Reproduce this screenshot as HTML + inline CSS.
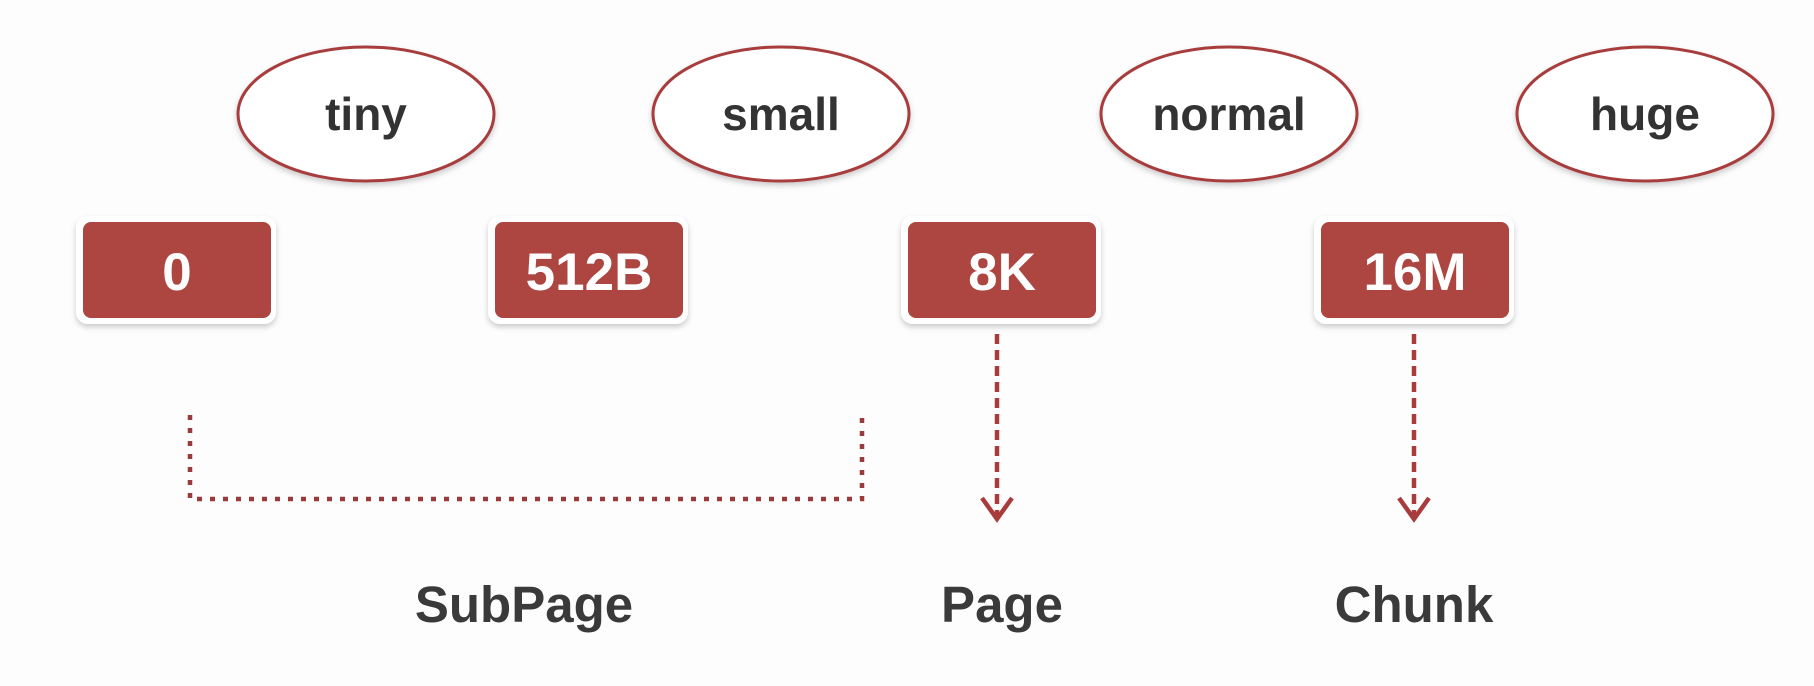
<!DOCTYPE html>
<html><head><meta charset="utf-8"><style>
html,body{margin:0;padding:0;background:#fdfdfe;}
svg{display:block;}
</style></head><body>
<svg width="1814" height="686" viewBox="0 0 1814 686" xmlns="http://www.w3.org/2000/svg">
<defs>
<filter id="sh" x="-20%" y="-20%" width="140%" height="150%"><feDropShadow dx="0" dy="3" stdDeviation="3" flood-color="#000" flood-opacity="0.2"/></filter>
</defs>
<rect width="1814" height="686" fill="#fdfdfe"/>
<g fill="#fff" stroke="#a83c3c" stroke-width="3" filter="url(#sh)">
<ellipse cx="366" cy="114" rx="128" ry="67"/>
<ellipse cx="781" cy="114" rx="128" ry="67"/>
<ellipse cx="1229" cy="114" rx="128" ry="67"/>
<ellipse cx="1645" cy="114" rx="128" ry="67"/>
</g>
<g font-family="'Liberation Sans',sans-serif" font-size="46" fill="#333" text-anchor="middle" font-weight="bold">
<text x="366" y="130">tiny</text>
<text x="781" y="130">small</text>
<text x="1229" y="130">normal</text>
<text x="1645" y="130">huge</text>
</g>
<g filter="url(#sh)">
<rect x="76" y="216" width="200" height="108" rx="12" fill="#fff"/>
<rect x="488" y="216" width="200" height="108" rx="12" fill="#fff"/>
<rect x="901" y="216" width="200" height="108" rx="12" fill="#fff"/>
<rect x="1314" y="216" width="200" height="108" rx="12" fill="#fff"/>
</g>
<g fill="#ad4540">
<rect x="83" y="222" width="188" height="96" rx="8"/>
<rect x="495" y="222" width="188" height="96" rx="8"/>
<rect x="908" y="222" width="188" height="96" rx="8"/>
<rect x="1321" y="222" width="188" height="96" rx="8"/>
</g>
<g font-family="'Liberation Sans',sans-serif" font-size="53" fill="#fff" text-anchor="middle" font-weight="bold">
<text x="177" y="290">0</text>
<text x="589" y="290">512B</text>
<text x="1002" y="290">8K</text>
<text x="1415" y="290">16M</text>
</g>
<path d="M190 415 V499 H862 V415" fill="none" stroke="#9a3a3a" stroke-width="4.5" stroke-dasharray="5 8"/>
<g stroke="#a83c3c" stroke-width="4.5" fill="none">
<path d="M997 334 V517" stroke-dasharray="10 6"/>
<path d="M982 498 L997 519 L1012 498"/>
<path d="M1414 334 V517" stroke-dasharray="10 6"/>
<path d="M1399 498 L1414 519 L1429 498"/>
</g>
<g font-family="'Liberation Sans',sans-serif" font-size="51" fill="#3a3a3a" text-anchor="middle" font-weight="bold">
<text x="524" y="622">SubPage</text>
<text x="1002" y="622">Page</text>
<text x="1414" y="622">Chunk</text>
</g>
</svg>
</body></html>
